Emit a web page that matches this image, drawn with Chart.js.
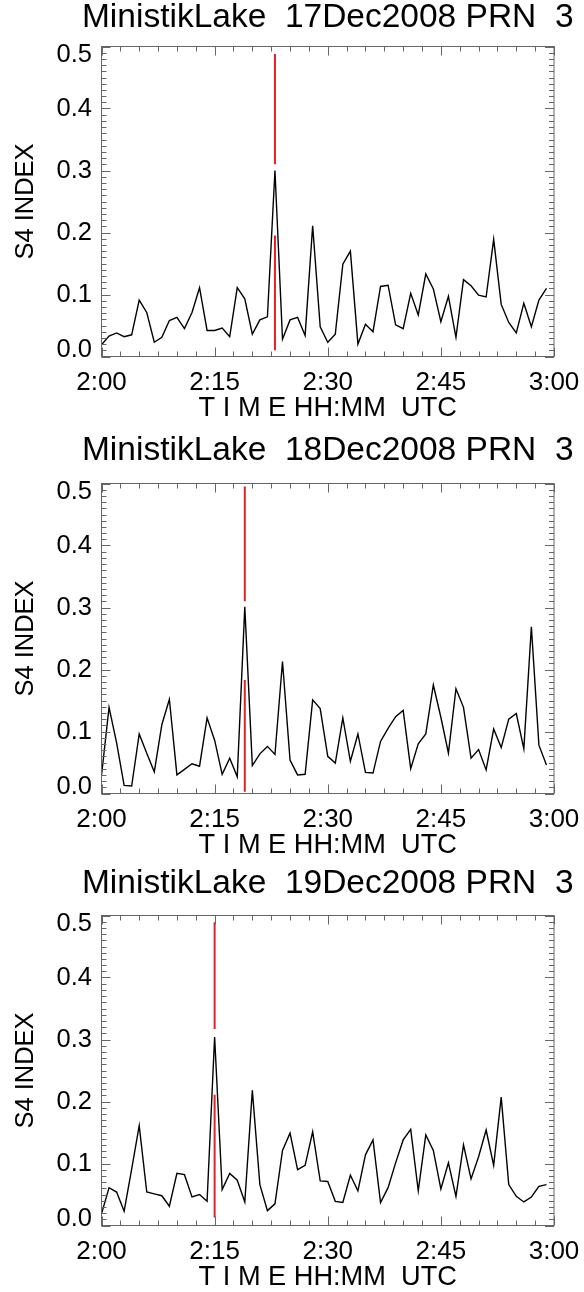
<!DOCTYPE html>
<html>
<head>
<meta charset="utf-8">
<script src="https://cdn.jsdelivr.net/npm/chart.js@4.4.0/dist/chart.umd.min.js"></script>
<style>
  body { margin: 0; background: #fff; }
  #wrap { position: relative; width: 584px; height: 1292px; overflow: hidden; background: #fff; }
  .panel { position: absolute; left: 0; width: 584px; height: 428px; }
</style>
</head>
<body>
<div id="wrap">
  <div class="panel" id="p0"><canvas id="c0" width="584" height="428"></canvas></div>
  <div class="panel" id="p1"><canvas id="c1" width="584" height="428"></canvas></div>
  <div class="panel" id="p2"><canvas id="c2" width="584" height="428"></canvas></div>
</div>
<script>
// minutes after 2:00 UTC, one sample per minute
const minutes = [0,1,2,3,4,5,6,7,8,9,10,11,12,13,14,15,16,17,18,19,
  20,21,22,23,24,25,26,27,28,29,30,31,32,33,34,35,36,37,38,39,
  40,41,42,43,44,45,46,47,48,49,50,51,52,53,54,55,56,57,58,59]

const s4Dec17 = [0.019,0.033,0.038,0.032,0.035,0.091,0.071,0.023,0.031,0.058,
  0.063,0.045,0.071,0.111,0.042,0.042,0.046,0.032,0.111,0.093,
  0.036,0.059,0.064,0.300,0.028,0.059,0.063,0.034,0.211,0.048,
  0.023,0.036,0.149,0.170,0.020,0.052,0.040,0.113,0.115,0.051,
  0.045,0.102,0.067,0.133,0.109,0.056,0.097,0.031,0.124,0.114,
  0.099,0.096,0.189,0.084,0.055,0.038,0.086,0.048,0.091,0.110]

const s4Dec18 = [0.029,0.139,0.082,0.013,0.012,0.096,0.065,0.035,0.111,0.152,
  0.030,0.039,0.048,0.044,0.122,0.086,0.031,0.057,0.027,0.301,
  0.045,0.064,0.076,0.063,0.213,0.054,0.030,0.031,0.151,0.137,
  0.060,0.049,0.122,0.052,0.096,0.034,0.033,0.084,0.105,0.124,
  0.134,0.040,0.080,0.096,0.175,0.123,0.065,0.169,0.139,0.057,
  0.071,0.038,0.104,0.074,0.120,0.129,0.072,0.269,0.078,0.046]

const s4Dec19 = [0.019,0.061,0.054,0.023,0.091,0.161,0.054,0.051,0.048,0.031,
  0.084,0.082,0.046,0.050,0.039,0.304,0.058,0.084,0.073,0.038,
  0.218,0.066,0.024,0.035,0.121,0.149,0.090,0.097,0.151,0.072,
  0.071,0.039,0.037,0.081,0.056,0.114,0.138,0.037,0.061,0.101,
  0.138,0.155,0.056,0.146,0.121,0.059,0.101,0.047,0.130,0.075,
  0.111,0.154,0.097,0.207,0.066,0.047,0.038,0.046,0.063,0.066]

const dates = ['17Dec2008', '18Dec2008', '19Dec2008']
const series = [s4Dec17, s4Dec18, s4Dec19]

// red event marker: minute, lower piece, upper piece
const eventMinute = [23, 19, 15]
const eventLow = [[0.010, 0.195], [0.003, 0.183], [0.013, 0.211]]
const eventHigh = [[0.310, 0.488], [0.310, 0.495], [0.317, 0.489]]

const xTickLabels = ['2:00', '2:15', '2:30', '2:45', '3:00']
const yTickValues = [0, 0.1, 0.2, 0.3, 0.4, 0.5]
const yTickLabels = ['0.0', '0.1', '0.2', '0.3', '0.4', '0.5']

// page layout (px): where each canvas sits and where its title line goes
const panelTop = [-1, 435.8, 867.5]
const titleY = [17.5, 450.5, 883.5]

const FONT = "'Liberation Sans', Arial, Helvetica, sans-serif"
Chart.defaults.font.family = FONT
Chart.defaults.color = '#000'

// IDL style box: inward ticks on all four sides, y labels kept inside the box,
// and the title centred over the plot (it is wider than the plot itself)
const idlFrame = {
  id: 'idlFrame',
  afterDatasetsDraw(chart, args, opts) {
    const { ctx, chartArea: a, scales } = chart
    const x = scales.x, y = scales.y
    ctx.save()
    ctx.strokeStyle = '#666'
    ctx.lineWidth = 1
    ctx.strokeRect(a.left, a.top, a.right - a.left, a.bottom - a.top)
    ctx.beginPath()
    for (let m = 0; m <= 60; m += 2.5) {
      const px = Math.round(x.getPixelForValue(m)) + 0.5
      const len = m % 15 === 0 ? 9 : 5
      ctx.moveTo(px, a.bottom); ctx.lineTo(px, a.bottom - len)
      ctx.moveTo(px, a.top); ctx.lineTo(px, a.top + len)
    }
    for (let k = 0; k <= 50; k++) {
      const py = Math.round(y.getPixelForValue(k / 100)) + 0.5
      const len = k % 10 === 0 ? 9 : 5
      ctx.moveTo(a.left, py); ctx.lineTo(a.left + len, py)
      ctx.moveTo(a.right, py); ctx.lineTo(a.right - len, py)
    }
    ctx.stroke()

    ctx.fillStyle = '#000'
    ctx.font = '25.5px ' + FONT
    ctx.textAlign = 'right'
    ctx.textBaseline = 'middle'
    yTickValues.forEach((v, i) => {
      let py = y.getPixelForValue(v)
      if (i === 0) py -= 7
      if (i === yTickValues.length - 1) py += 8.5
      ctx.fillText(yTickLabels[i], a.left - 9.5, py)
    })

    ctx.font = '33.5px ' + FONT
    ctx.textAlign = 'center'
    ctx.fillText(opts.text, (a.left + a.right) / 2, opts.y)
    ctx.restore()
  }
}

function makePanel(i) {
  document.getElementById('p' + i).style.top = panelTop[i] + 'px'
  const pts = minutes.map((m, j) => ({ x: m, y: series[i][j] }))
  const ev = eventMinute[i]
  const config = {
    type: 'line',
    data: {
      datasets: [
        { data: [{ x: ev, y: eventLow[i][0] }, { x: ev, y: eventLow[i][1] }],
          borderColor: 'rgb(228,32,40)', borderWidth: 2, pointRadius: 0, order: 0 },
        { data: [{ x: ev, y: eventHigh[i][0] }, { x: ev, y: eventHigh[i][1] }],
          borderColor: 'rgb(228,32,40)', borderWidth: 2, pointRadius: 0, order: 0 },
        { data: pts, borderColor: '#000', borderWidth: 1.4, pointRadius: 0,
          tension: 0, fill: false, order: 1 }
      ]
    },
    options: {
      responsive: false,
      animation: false,
      layout: { padding: { left: 0, right: 30, top: 47.5, bottom: 0 } },
      plugins: {
        legend: { display: false },
        tooltip: { enabled: false },
        title: { display: false },
        idlFrame: {
          text: 'MinistikLake  ' + dates[i] + ' PRN  3',
          y: titleY[i] - panelTop[i]
        }
      },
      scales: {
        x: {
          type: 'linear', min: 0, max: 60,
          grid: { display: false, drawTicks: false },
          border: { display: false },
          ticks: {
            stepSize: 15, autoSkip: false, maxRotation: 0,
            padding: 11, color: '#000',
            font: { size: 26 },
            callback: v => xTickLabels[v / 15]
          },
          title: {
            display: true, text: 'T I M E HH:MM  UTC', color: '#000',
            font: { size: 27.2 }, padding: { top: 0, bottom: 2.5 }
          },
          afterFit: s => { s.height = 70.5; s.paddingRight = 0; s.paddingLeft = 0 }
        },
        y: {
          min: 0, max: 0.5,
          grid: { display: false, drawTicks: false },
          border: { display: false },
          ticks: { display: false, stepSize: 0.1 },
          title: {
            display: true, text: 'S4 INDEX', color: '#000',
            font: { size: 25.5 }, padding: { top: 10.7, bottom: 0 }
          },
          afterFit: s => { s.width = 101.5 }
        }
      }
    },
    plugins: [idlFrame]
  }
  return new Chart(document.getElementById('c' + i), config)
}

const charts = [0, 1, 2].map(makePanel)
</script>
</body>
</html>
